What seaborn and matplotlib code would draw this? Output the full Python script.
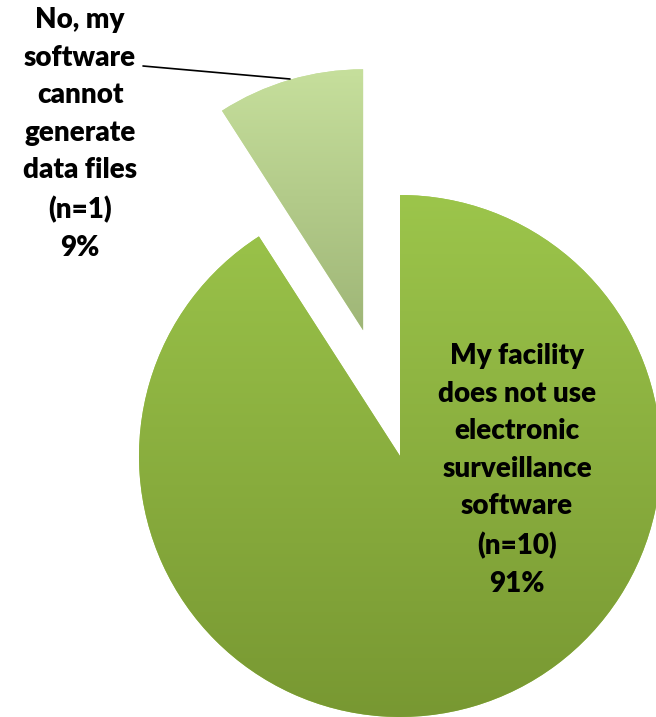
import numpy as np
import seaborn as sns
from matplotlib import pyplot as plt
from matplotlib.colors import LinearSegmentedColormap

# survey answers: facility software and data files
labels = ["My facility\ndoes not use\nelectronic\nsurveillance\nsoftware\n(n=10)\n91%",
          "No, my\nsoftware\ncannot\ngenerate\ndata files\n(n=1)\n9%"]
counts = [10, 1]
explode = [0, 131]   # pie() takes explode in data units here (radius=261)
top_colors = ["#9cc54b", "#c6df9c"]
bottom_colors = ["#789832", "#9fb677"]

sns.set_theme(style="white")
plt.rcParams['font.family'] = ['Lato', 'DejaVu Sans']

fig = plt.figure(figsize=(6.56, 7.17), dpi=100)
ax = fig.add_axes([0, 0, 1, 1])

wedges, _ = ax.pie(counts, explode=explode, startangle=90, counterclock=False,
                   center=(400, 261), radius=261, frame=True,
                   colors=top_colors, wedgeprops=dict(linewidth=0))
ax.set_xlim(0, 656)
ax.set_ylim(0, 717)
ax.set_aspect('equal')
ax.axis('off')

# vertical gradient fill for each slice
for w, c1, c2 in zip(wedges, top_colors, bottom_colors):
    cmap = LinearSegmentedColormap.from_list("g", [c2, c1])
    grad = np.linspace(0, 1, 256).reshape(-1, 1)
    bb = w.get_path().get_extents(w.get_transform() - ax.transData)
    im = ax.imshow(grad, cmap=cmap, origin='lower', aspect='auto',
                   extent=[bb.x0, bb.x1, bb.y0, bb.y1], zorder=2)
    im.set_clip_path(w)
ax.set_xlim(0, 656)
ax.set_ylim(0, 717)

ax.text(517, 717 - 470, labels[0], ha='center', va='center', fontsize=20,
        fontweight='heavy', linespacing=1.55, color='black', zorder=5)
ax.text(80, 717 - 134, labels[1], ha='center', va='center', fontsize=20,
        fontweight='heavy', linespacing=1.55, color='black', zorder=5)
ax.plot([143, 290], [717 - 66, 717 - 79], color='black', linewidth=1.2, zorder=5)

fig.savefig("out.png", dpi=100)
